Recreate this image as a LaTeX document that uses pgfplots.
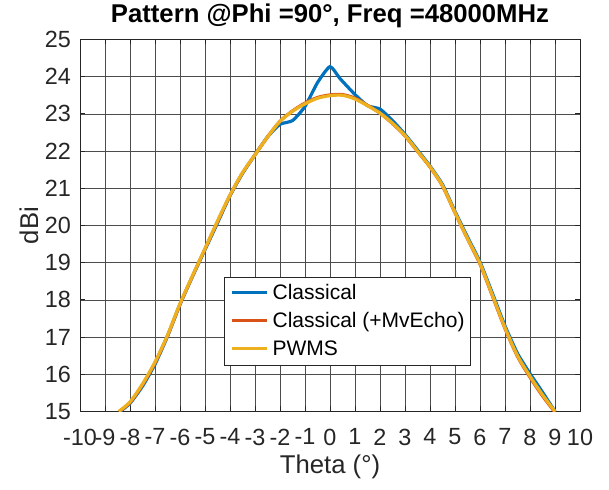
\documentclass[border=0pt]{standalone}
\usepackage{fontspec}
\setmainfont{Liberation Sans}
\usepackage{pgfplots}
\pgfplotsset{compat=1.18}
\usepackage{pgfplotstable}
\definecolor{mblue}{rgb}{0,0.447,0.741}
\definecolor{mred}{rgb}{0.85,0.325,0.098}
\definecolor{myel}{rgb}{0.929,0.694,0.125}
\definecolor{axc}{rgb}{0.15,0.15,0.15}

\pgfplotstableread{
x y
-8.40 15.00
-8.0 15.22
-7.5 15.68
-7.0 16.27
-6.5 17.02
-6.0 17.88
-5.5 18.63
-5.0 19.35
-4.5 20.07
-4.0 20.80
-3.5 21.40
-3.0 21.90
-2.5 22.38
-2.0 22.72
-1.5 22.82
-1.0 23.20
-0.5 23.84
0.0 24.27
0.4 23.95
1.0 23.52
1.5 23.22
2.0 23.13
2.5 22.82
3.0 22.45
3.5 22.03
4.0 21.60
4.5 21.10
5.0 20.38
5.5 19.69
6.0 19.02
6.5 18.17
7.0 17.30
7.5 16.56
8.0 16.02
8.5 15.52
9.0 15.00
}\classical

\pgfplotstableread{
x y
-8.44 15.00
-8.0 15.24
-7.5 15.72
-7.0 16.31
-6.5 17.04
-6.0 17.88
-5.5 18.64
-5.0 19.37
-4.5 20.10
-4.0 20.81
-3.5 21.41
-3.0 21.90
-2.5 22.38
-2.0 22.80
-1.5 23.08
-1.0 23.29
-0.5 23.44
0.0 23.51
0.5 23.52
1.0 23.42
1.5 23.23
2.0 23.02
2.5 22.74
3.0 22.41
3.5 21.99
4.0 21.57
4.5 21.06
5.0 20.34
5.5 19.64
6.0 18.96
6.5 18.10
7.0 17.23
7.5 16.48
8.0 15.92
8.5 15.42
9.0 14.98
}\mvecho

\pgfplotstableread{
x y
-8.45 15.00
-8.0 15.26
-7.5 15.74
-7.0 16.33
-6.5 17.05
-6.0 17.90
-5.5 18.65
-5.0 19.38
-4.5 20.12
-4.0 20.82
-3.5 21.42
-3.0 21.90
-2.5 22.38
-2.0 22.80
-1.5 23.07
-1.0 23.27
-0.5 23.42
0.0 23.49
0.5 23.50
1.0 23.40
1.5 23.22
2.0 23.02
2.5 22.75
3.0 22.42
3.5 22.00
4.0 21.58
4.5 21.07
5.0 20.35
5.5 19.65
6.0 18.98
6.5 18.12
7.0 17.25
7.5 16.50
8.0 15.95
8.5 15.45
9.0 15.00
}\pwms

\begin{document}
\begin{tikzpicture}
\path[use as bounding box] (-80bp,-78.5bp) rectangle (529bp,411.5bp);
\begin{axis}[
  at={(0,0)}, anchor=south west,
  scale only axis, width=500bp, height=372bp,
  xmin=-10, xmax=10, ymin=15, ymax=25,
  xtick={-10,-9,...,10}, ytick={15,16,...,25},
  grid=major,
  major grid style={black!70, line width=0.7bp},
  axis line style={axc, line width=0.8bp},
  tick style={axc, line width=0.8bp},
  major tick length=5bp, tick align=inside,
  xtick pos=both, ytick pos=both,
  xticklabel pos=lower, yticklabel pos=left,
  /pgf/number format/assume math mode=true,
  ticklabel style={font=\fontsize{23.4bp}{28bp}\selectfont, text=axc},
  xticklabel style={anchor=north, inner sep=0pt, yshift=-17bp},
  yticklabel style={anchor=east, inner sep=0pt, xshift=-9bp},
  legend cell align=left,
  legend image code/.code={\draw[#1] (0bp,7bp) -- (35bp,7bp);},
  legend style={at={(0.288,0.1223)}, anchor=south west,
    draw=axc, line width=0.8bp, fill=white,
    inner xsep=6bp, inner ysep=6.5bp, row sep=9bp, column sep=4bp,
    font=\fontsize{21bp}{25bp}\selectfont,
    nodes={inner sep=0pt, anchor=base west, text height=15bp, text depth=4bp, text=black}},
]
\addplot[mblue, line width=3.2bp, smooth, tension=0.35] table[x=x,y=y] {\classical};
\addlegendentry{Classical}
\addplot[mred, line width=3.2bp, smooth, tension=0.5] table[x=x,y=y] {\mvecho};
\addlegendentry{Classical (+MvEcho)}
\addplot[myel, line width=3.2bp, smooth, tension=0.5] table[x=x,y=y] {\pwms};
\addlegendentry{PWMS}
\end{axis}
\node[font=\bfseries\fontsize{25.7bp}{30bp}\selectfont, anchor=base] at (250bp,388.5bp) {Pattern @Phi =90°, Freq =48000MHz};
\node[font=\fontsize{25.7bp}{30bp}\selectfont, text=axc] at (250bp,-55bp) {Theta (°)};
\node[font=\fontsize{25.7bp}{30bp}\selectfont, text=axc, rotate=90] at (-51bp,186bp) {dBi};
\end{tikzpicture}
\end{document}
